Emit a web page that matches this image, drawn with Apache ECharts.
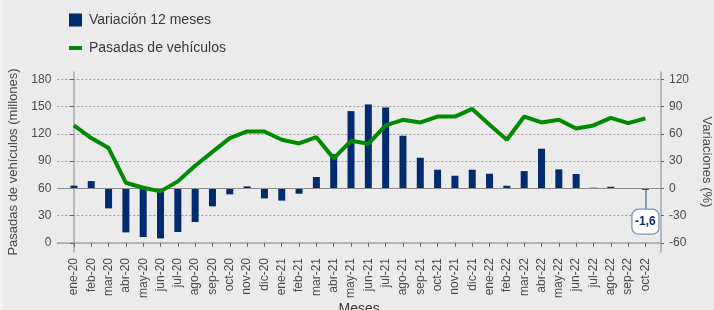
<!DOCTYPE html>
<html lang="es">
<head>
<meta charset="utf-8">
<script src="https://cdn.jsdelivr.net/npm/echarts@6/dist/echarts.min.js"></script>
<title>pasadas</title>
<style>
  html, body { margin: 0; padding: 0; background: #f4f4f4; }
  #main { width: 711px; height: 310px; margin-left: 3px; }
</style>
</head>
<body>
<div id="main"></div>
<script>
// meses del eje x
var meses = ['ene-20','feb-20','mar-20','abr-20','may-20','jun-20','jul-20','ago-20','sep-20','oct-20','nov-20','dic-20',
             'ene-21','feb-21','mar-21','abr-21','may-21','jun-21','jul-21','ago-21','sep-21','oct-21','nov-21','dic-21',
             'ene-22','feb-22','mar-22','abr-22','may-22','jun-22','jul-22','ago-22','sep-22','oct-22'];
// variación 12 meses (%), eje derecho
var variacion = [3, 8, -22, -48.4, -53.5, -55, -48, -37, -19.8, -6.6, 2.2, -11,
                 -13.5, -5.9, 12.5, 37.7, 85, 92.3, 89, 57.9, 33.7, 20.5, 13.9, 20.5,
                 16.1, 2.9, 19, 43.6, 20.9, 15.8, 0.7, 1.8, -0.4, -1.6];
// pasadas de vehículos (millones), eje izquierdo
var pasadas = [129.2, 115.3, 104.3, 66.2, 60.7, 56.7, 67.7, 84.9, 100.2, 115.3, 122.6, 122.6,
               113.4, 109.4, 116.3, 93, 112.3, 109, 129.2, 135.4, 132.5, 139, 139, 147.4,
               129.9, 113.4, 139, 132.5, 135.4, 125.9, 129.2, 137.6, 131.7, 137];
var ticksIzq = [0, 30, 60, 90, 120, 150, 180];
var ticksDer = [-60, -30, 0, 30, 60, 90, 120];

var font = '"Liberation Sans", Arial, sans-serif';
var myChart = echarts.init(document.getElementById('main'));

var idx = meses.map(function (m, i) { return i; });
var ultimo = meses.length - 1;

var option = {
  backgroundColor: '#ebebeb',
  animation: false,
  textStyle: { fontFamily: font },
  legend: {
    orient: 'vertical',
    left: 64, top: 13, padding: 0,
    itemWidth: 13, itemHeight: 13, itemGap: 14,
    textStyle: { fontSize: 14, color: '#3a3a3a', fontFamily: font, padding: [0, 0, 0, 2] },
    data: [
      { name: 'Variación 12 meses', icon: 'rect' },
      { name: 'Pasadas de vehículos', itemStyle: { opacity: 0 }, lineStyle: { width: 4 } }
    ]
  },
  grid: { left: 54.3, right: 53, top: 72, bottom: 58, outerBoundsMode: 'none', containLabel: false },
  xAxis: {
    type: 'value',
    min: -0.96, max: 33.9,
    name: 'Meses', nameLocation: 'middle', nameGap: 50, nameMoveOverlap: false,
    nameTextStyle: { fontSize: 14, color: '#3a3a3a' },
    axisLine: { lineStyle: { color: '#a8a8a8', width: 1.5 } },
    axisTick: { show: true, length: 4, customValues: idx, lineStyle: { color: '#666' } },
    axisLabel: {
      customValues: idx, rotate: 90, margin: 6, fontSize: 12, color: '#4a4a4a',
      formatter: function (v) { return meses[v]; }
    },
    splitLine: { show: false }
  },
  yAxis: [
    {
      type: 'value', min: -10, max: 188,
      name: 'Pasadas de vehículos (millones)', nameLocation: 'middle', nameGap: 32,
      nameTextStyle: { fontSize: 13, color: '#4a4a4a' },
      axisLine: { show: true, lineStyle: { color: '#a8a8a8', width: 1.5 } },
      axisTick: { show: true, length: 4, customValues: ticksIzq, lineStyle: { color: '#666' } },
      axisLabel: { customValues: ticksIzq, fontSize: 12, color: '#4a4a4a', margin: 6 },
      splitLine: { show: true, lineStyle: { color: '#9a9a9a', type: [2, 2], width: 1 } }
    },
    {
      type: 'value', min: -70, max: 128,
      name: 'Variaciones (%)', nameLocation: 'middle', nameGap: 36, nameRotate: -90,
      nameTextStyle: { fontSize: 13, color: '#4a4a4a' },
      axisLine: { show: true, lineStyle: { color: '#a8a8a8', width: 1.5 } },
      axisTick: { show: true, length: 3, customValues: ticksDer, lineStyle: { color: '#666' } },
      axisLabel: { customValues: ticksDer, fontSize: 12, color: '#4a4a4a', margin: 8 },
      splitLine: { show: false }
    }
  ],
  series: [
    {
      name: 'Variación 12 meses',
      type: 'bar',
      yAxisIndex: 1,
      barWidth: 7,
      itemStyle: { color: '#002b6e' },
      data: variacion.map(function (v, i) { return [i, v]; }),
      markLine: {
        silent: true,
        symbol: 'none',
        label: { show: false },
        data: [
          { yAxis: 0, lineStyle: { color: '#8c8c8c', width: 1, type: 'solid' } },
          [
            { coord: [ultimo, variacion[ultimo]], lineStyle: { color: '#6c80a8', width: 1.5, type: 'solid' } },
            { coord: [ultimo, -22.6] }
          ]
        ]
      },
      markPoint: {
        silent: true,
        symbol: 'roundRect',
        symbolSize: [27, 25],
        itemStyle: { color: '#ffffff', borderColor: '#7d92ba', borderWidth: 1.2 },
        label: {
          show: true, position: 'inside', color: '#0b2a66', fontWeight: 'bold', fontSize: 12,
          formatter: function () { return variacion[ultimo].toFixed(1).replace('.', ','); }
        },
        data: [{ coord: [ultimo, -36.6] }]
      }
    },
    {
      name: 'Pasadas de vehículos',
      type: 'line',
      yAxisIndex: 0,
      symbol: 'none',
      lineStyle: { color: '#008a00', width: 4 },
      itemStyle: { color: '#008a00' },
      z: 5,
      data: pasadas.map(function (v, i) { return [i, v]; })
    }
  ]
};
myChart.setOption(option);
</script>
</body>
</html>
